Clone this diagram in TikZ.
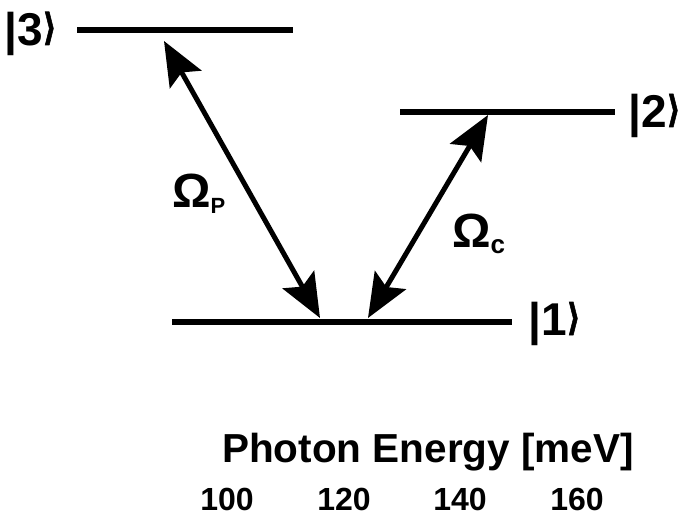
\documentclass[tikz,border=0pt]{standalone}
\usepackage{fontspec}
\usepackage{graphicx}
\setmainfont{Liberation Sans}
\newfontfamily\symfont{DejaVu Sans}[FakeBold=3]
\usetikzlibrary{arrows.meta}
\newcommand\myket[1]{|#1\kern-1pt{\symfont\resizebox*{14pt}{33pt}{\raisebox{\depth}{❱}}}}
\begin{document}
\begin{tikzpicture}[x=1pt,y=-1pt,
  level/.style={line width=6pt},
  tip/.tip={Stealth[length=44pt,width=36pt,inset=8pt]},
  trans/.style={line width=5pt,tip-tip},
  ket/.style={font=\fontsize{46}{46}\bfseries\selectfont,inner sep=0pt,anchor=base west},
  omega/.style={font=\fontsize{48}{48}\bfseries\selectfont,inner sep=0pt,anchor=base west},
  title/.style={font=\fontsize{40.5}{40.5}\bfseries\selectfont,inner sep=0pt,anchor=base west},
  num/.style={font=\fontsize{32}{32}\bfseries\selectfont,inner sep=0pt,anchor=base}]
\useasboundingbox (0,0) rectangle (683,515);
% levels
\coordinate (l3a) at (77,30);  \coordinate (l3b) at (293,30);
\coordinate (l2a) at (400,112); \coordinate (l2b) at (615,112);
\coordinate (l1a) at (172,322); \coordinate (l1b) at (512,322);
\draw[level] (l3a) -- (l3b);
\draw[level] (l2a) -- (l2b);
\draw[level] (l1a) -- (l1b);
% transitions
\coordinate (p3) at (164,41);  \coordinate (p1) at (320,318);
\coordinate (c2) at (488,115); \coordinate (c1) at (368,318);
\draw[trans] (p3) -- (p1);
\draw[trans] (c2) -- (c1);
% kets
\node[ket] (k3) at (4.5,45) {\myket{3}};
\node[ket] (k2) at (628.5,127) {\myket{2}};
\node[ket] (k1) at (528.5,335) {\myket{1}};
% Rabi labels
\node[omega] (op) at (172,207) {Ω\raisebox{-6pt}{\fontsize{22}{22}\selectfont P}};
\node[omega] (oc) at (452,247) {Ω\raisebox{-6pt}{\fontsize{26}{26}\selectfont c}};
% axis text
\node[title] (t) at (222,462) {Photon Energy [meV]};
\node[num] (n1) at (227,510) {100};
\node[num] (n2) at (344,510) {120};
\node[num] (n3) at (460,510) {140};
\node[num] (n4) at (577,510) {160};
\end{tikzpicture}
\end{document}
